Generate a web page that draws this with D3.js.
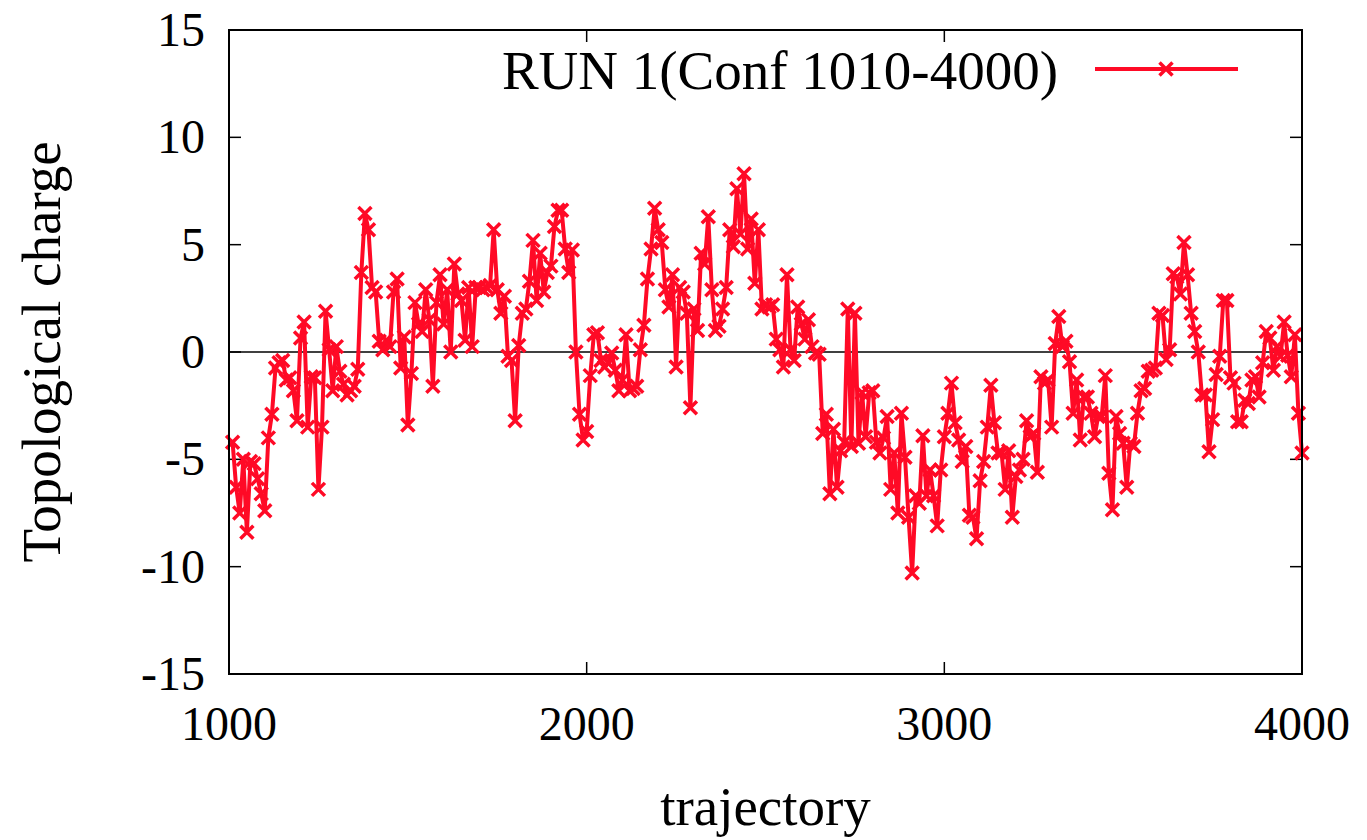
<!DOCTYPE html>
<html>
<head>
<meta charset="utf-8">
<script src="https://cdn.jsdelivr.net/npm/d3@7"></script>
<style>
  html, body { margin: 0; padding: 0; background: #fff; }
  svg { display: block; }
  text { font-family: "Liberation Serif", "Times New Roman", serif; fill: #000; }
</style>
</head>
<body>
<svg id="chart" width="1367" height="840"></svg>
<script>
// ---- data ----
const trajStart = 1010;
const trajStep = 10;
const charge = [
  -4.2, -6.3, -7.5, -5.0, -8.4, -5.1, -5.2, -5.9, -6.6, -7.4,
  -4.0, -2.9, -0.75, -0.5, -0.4, -1.3, -1.2, -1.8, -3.2, 0.65,
  1.4, -3.5, -1.15, -1.2, -6.4, -3.5, 1.9, 0.1, -1.8, 0.25,
  -0.9, -1.5, -2.0, -1.8, -1.6, -0.8, 3.7, 6.45, 5.7, 3.0,
  2.8, 0.5, 0.1, 0.55, 0.25, 2.8, 3.4, -0.75, 0.7, -3.4,
  -1.0, 2.3, 1.3, 0.95, 2.9, 1.5, -1.6, 2.3, 3.6, 1.3,
  2.9, 0.0, 4.1, 2.7, 2.4, 0.55, 3.0, 0.25, 3.0, 3.0,
  2.9, 3.0, 3.1, 5.7, 2.9, 1.8, 2.6, -0.2, -0.4, -3.2,
  0.3, 1.8, 2.0, 3.3, 5.2, 2.4, 4.6, 2.8, 3.7, 4.0,
  5.85, 6.6, 6.6, 4.8, 3.7, 4.75, 0.0, -2.9, -4.1, -3.7,
  -1.1, 0.8, 0.9, -0.4, -0.7, -0.5, -0.05, -0.85, -1.8, -1.3,
  0.8, -1.8, -1.7, -1.6, 0.1, 1.25, 3.4, 4.8, 6.7, 5.7,
  5.1, 2.9, 2.1, 3.6, -0.7, 3.0, 2.8, 1.8, -2.6, 2.0,
  1.0, 4.6, 4.1, 6.3, 2.9, 1.0, 1.2, 2.0, 3.0, 5.7,
  4.9, 7.6, 5.5, 8.3, 4.8, 6.2, 3.2, 5.7, 2.0, 2.2,
  2.1, 2.2, 0.6, 0.1, -0.7, 3.6, 0.1, -0.4, 2.1, 1.3,
  0.6, 1.5, 0.25, -0.05, -0.1, -3.8, -2.9, -6.6, -3.6, -6.3,
  -4.6, -4.2, 2.0, -4.4, 1.8, -4.25, -1.9, -3.95, -1.9, -1.8,
  -4.2, -4.7, -4.0, -3.0, -6.4, -4.7, -7.5, -2.85, -4.9, -7.7,
  -10.3, -6.7, -7.05, -3.9, -6.7, -5.5, -6.7, -8.1, -5.5, -3.95,
  -2.85, -1.45, -3.3, -4.1, -5.1, -4.4, -7.6, -7.7, -8.7, -6.0,
  -5.1, -3.5, -1.55, -3.3, -4.7, -4.7, -6.4, -4.6, -7.7, -5.8,
  -5.5, -5.0, -3.2, -3.95, -3.8, -5.6, -1.15, -1.45, -1.3, -3.5,
  0.4, 1.65, 0.25, 0.5, -0.45, -2.85, -1.3, -4.1, -2.1, -2.1,
  -2.85, -3.95, -3.0, -3.0, -1.1, -5.65, -7.35, -3.0, -3.8, -4.25,
  -6.3, -4.25, -4.4, -2.85, -1.8, -1.7, -0.9, -0.85, -0.75, 1.8,
  1.7, -0.35, 0.1, 3.65, 3.5, 2.7, 5.1, 3.6, 1.8, 0.95,
  0.0, -2.0, -2.0, -4.65, -3.15, -1.05, -0.2, 2.4, 2.4, -1.2,
  -1.45, -3.25, -3.25, -2.25, -2.4, -1.3, -1.15, -2.1, -0.5, 0.95,
  0.65, -0.85, 0.25, -0.2, 1.4, -0.15, -1.15, 0.8, -2.85, -4.7
];
const xTicks = [1000, 2000, 3000, 4000];
const yTicks = [-15, -10, -5, 0, 5, 10, 15];
const xDomain = [1000, 4000];
const yDomain = [-15, 15];
const seriesName = "RUN 1(Conf 1010-4000)";
const xLabel = "trajectory";
const yLabel = "Topological charge";

// ---- layout ----
const plot = { left: 229, right: 1302, top: 30, bottom: 674 };
const red = "#ff0a26";
const tickFont = 48;
const labelFont = 55;

const data = charge.map((v, i) => ({ t: trajStart + i * trajStep, q: v }));

const svg = d3.select("#chart");
const x = d3.scaleLinear().domain(xDomain).range([plot.left, plot.right]);
const y = d3.scaleLinear().domain(yDomain).range([plot.bottom, plot.top]);

const tickLen = 12;

// zero axis
svg.append("line")
  .attr("x1", x(xDomain[0])).attr("x2", x(xDomain[1]))
  .attr("y1", y(0)).attr("y2", y(0))
  .attr("stroke", "#000").attr("stroke-width", 1.5);

// inward ticks on all four sides
const tickG = svg.append("g").attr("stroke", "#000").attr("stroke-width", 1.5);
yTicks.forEach(v => {
  tickG.append("line").attr("x1", plot.left).attr("x2", plot.left + tickLen)
    .attr("y1", y(v)).attr("y2", y(v));
  tickG.append("line").attr("x1", plot.right).attr("x2", plot.right - tickLen)
    .attr("y1", y(v)).attr("y2", y(v));
});
xTicks.forEach(v => {
  tickG.append("line").attr("x1", x(v)).attr("x2", x(v))
    .attr("y1", plot.bottom).attr("y2", plot.bottom - tickLen);
  tickG.append("line").attr("x1", x(v)).attr("x2", x(v))
    .attr("y1", plot.top).attr("y2", plot.top + tickLen);
});

// tick labels
svg.append("g").selectAll("text").data(yTicks).join("text")
  .attr("x", plot.left - 24)
  .attr("y", d => y(d))
  .attr("dy", "0.33em")
  .attr("text-anchor", "end")
  .attr("font-size", tickFont)
  .text(d => String(d));

svg.append("g").selectAll("text").data(xTicks).join("text")
  .attr("x", d => x(d))
  .attr("y", plot.bottom + 66)
  .attr("text-anchor", "middle")
  .attr("font-size", tickFont)
  .text(d => String(d));

// axis titles
svg.append("text")
  .attr("x", (plot.left + plot.right) / 2)
  .attr("y", 825)
  .attr("text-anchor", "middle")
  .attr("font-size", labelFont)
  .text(xLabel);

svg.append("text")
  .attr("transform", `translate(60, ${(plot.top + plot.bottom) / 2}) rotate(-90)`)
  .attr("text-anchor", "middle")
  .attr("font-size", labelFont)
  .text(yLabel);

// series line
const line = d3.line().x(d => x(d.t)).y(d => y(d.q));
svg.append("path")
  .datum(data)
  .attr("d", line)
  .attr("fill", "none")
  .attr("stroke", red)
  .attr("stroke-width", 4)
  .attr("stroke-linejoin", "round");

// markers
const ms = 6.5;
const xMark = (cx, cy) =>
  `M${cx - ms},${cy - ms}L${cx + ms},${cy + ms}M${cx - ms},${cy + ms}L${cx + ms},${cy - ms}`;
svg.append("g").selectAll("path").data(data).join("path")
  .attr("d", d => xMark(x(d.t), y(d.q)))
  .attr("stroke", red)
  .attr("stroke-width", 3.5)
  .attr("fill", "none");

// legend
const lg = svg.append("g");
lg.append("text")
  .attr("x", 1058)
  .attr("y", 89)
  .attr("text-anchor", "end")
  .attr("font-size", labelFont)
  .text(seriesName);
lg.append("line")
  .attr("x1", 1095).attr("x2", 1238).attr("y1", 69).attr("y2", 69)
  .attr("stroke", red).attr("stroke-width", 4);
lg.append("path")
  .attr("d", xMark(1166, 69))
  .attr("stroke", red).attr("stroke-width", 3.5).attr("fill", "none");

// frame
svg.append("rect")
  .attr("x", plot.left).attr("y", plot.top)
  .attr("width", plot.right - plot.left).attr("height", plot.bottom - plot.top)
  .attr("fill", "none").attr("stroke", "#000").attr("stroke-width", 2);
</script>
</body>
</html>
